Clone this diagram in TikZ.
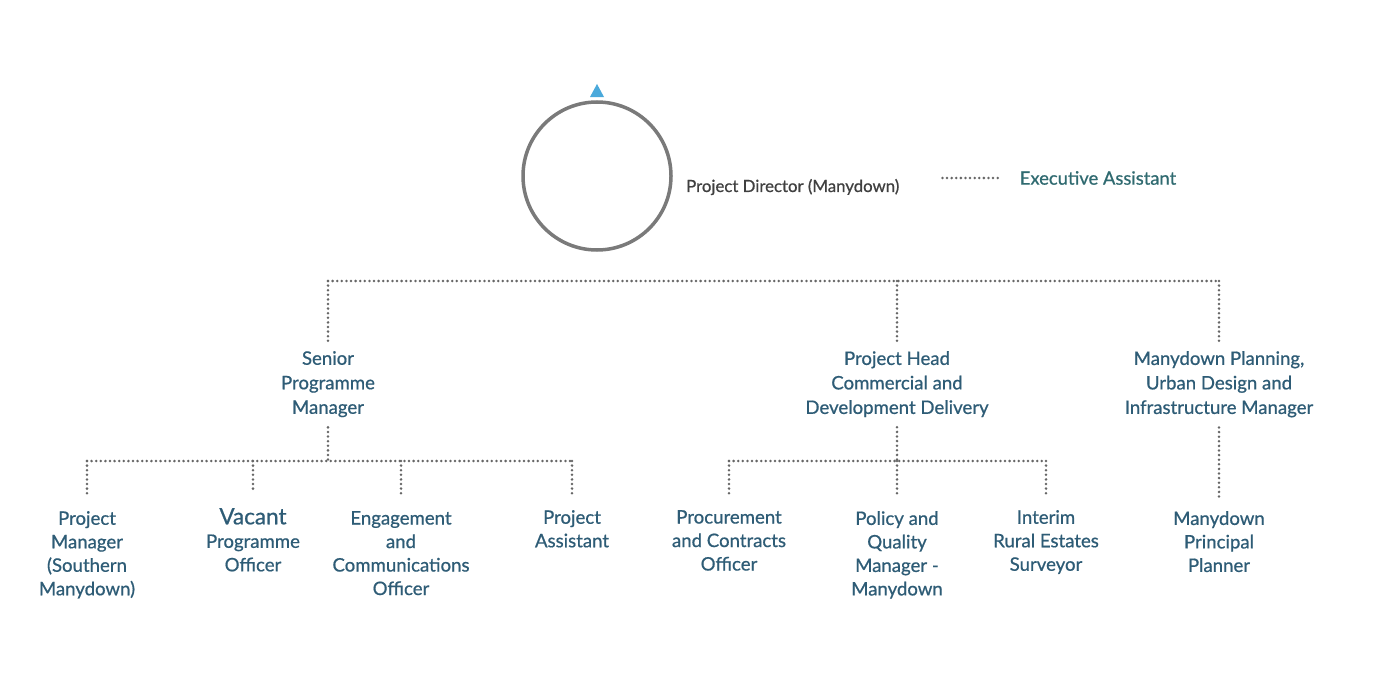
\documentclass[tikz,border=0pt]{standalone}
\usepackage{fontspec}
\setmainfont{Lato}[RawFeature={embolden=0.7}]
\usetikzlibrary{positioning}
\definecolor{rolecol}{HTML}{2E5C76}
\definecolor{eacol}{HTML}{2F6A70}
\definecolor{dotcol}{HTML}{666666}
\definecolor{ringcol}{HTML}{7A7A7A}
\definecolor{tipcol}{HTML}{4AA9DB}

\begin{document}
\begin{tikzpicture}[x=1pt,y=-1pt,
  role/.style={align=center, inner sep=0pt, text=rolecol, font=\fontsize{18.6}{23.5}\selectfont},
  head/.style={role, font=\fontsize{18.6}{24.5}\selectfont},
  dotline/.style={draw=dotcol, line width=2.8pt, line cap=round, dash pattern=on 0pt off 4.6pt}]

\useasboundingbox[fill=white] (0,0) rectangle (1374,693);

% director
\node[circle, draw=ringcol, line width=3.5pt, minimum size=148pt] (dir) at (597,176) {};
\fill[tipcol] (590,97) -- (597,84) -- (604,97) -- cycle;
\node[anchor=west, inner sep=0pt, text=black!75, font=\fontsize{16.8}{20}\selectfont] (pd) at (686,187) {Project Director (Manydown)};
\node[inner sep=0pt, text=eacol, font=\fontsize{18.4}{22}\selectfont] (ea) at (1098,178) {Executive Assistant};
\draw[dotline] ([xshift=43pt]pd.east |- ea) -- ([xshift=-20pt]ea.west);

% first level
\node[head, anchor=north] (spm) at (328,351) {Senior\\Programme\\Manager};
\node[head, anchor=north] (phd) at (897,351) {Project Head\\Commercial and\\Development Delivery};
\node[head, anchor=north] (mpu) at (1219,351) {Manydown Planning,\\Urban Design and\\Infrastructure Manager};

\coordinate (bus1) at (328,281);
\coordinate (bus1e) at (1219,281);
\draw[dotline] (bus1) -- (bus1e);
\foreach \n in {spm,phd,mpu}
  \draw[dotline] (bus1 -| \n) -- ([yshift=10pt]\n.north);

% second level
\node[role, anchor=north] (pms) at (87,511) {Project\\Manager\\(Southern\\Manydown)};
\node[role, anchor=north] (vpo) at (253,508) {{\fontsize{22.5}{24}\selectfont Vacant}\\Programme\\Officer};
\node[role, anchor=north] (eco) at (401,511) {Engagement\\and\\Communications\\Officer};
\node[role, anchor=north] (pa) at (572,510) {Project\\Assistant};
\node[role, anchor=north] (pco) at (729,510) {Procurement\\and Contracts\\Officer};
\node[role, anchor=north] (pqm) at (897,511) {Policy and\\Quality\\Manager -\\Manydown};
\node[role, anchor=north] (res) at (1046,510) {Interim\\Rural Estates\\Surveyor};
\node[role, anchor=north] (mpp) at (1219,511) {Manydown\\Principal\\Planner};

\coordinate (bus2) at (87,461);
\coordinate (bus2e) at (572,461);
\coordinate (bus3) at (729,461);
\coordinate (bus3e) at (1046,461);
\draw[dotline] (bus2) -- (bus2e);
\draw[dotline] (bus3) -- (bus3e);
\draw[dotline] ([yshift=-10pt]spm.south) -- (bus2 -| spm);
\draw[dotline] ([yshift=-10pt]phd.south) -- (bus3 -| phd);
\draw[dotline] ([yshift=-10pt]mpu.south) -- ([yshift=14pt]mpp.north);
\foreach \n in {pms,vpo,eco,pa}
  \draw[dotline] (bus2 -| \n) -- ([yshift=15pt]\n.north);
\foreach \n in {pco,pqm,res}
  \draw[dotline] (bus3 -| \n) -- ([yshift=15pt]\n.north);

\end{tikzpicture}
\end{document}
